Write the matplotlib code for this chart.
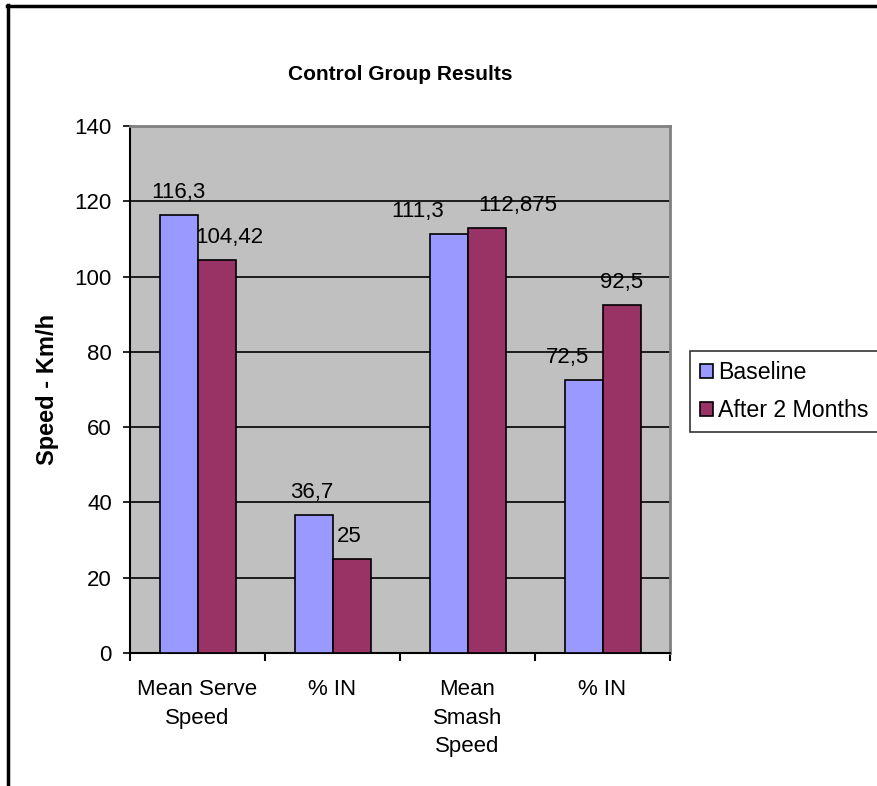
import numpy as np
import matplotlib
matplotlib.use("Agg")
import matplotlib.pyplot as plt
from matplotlib.lines import Line2D
from matplotlib.patches import Patch

plt.rcParams['font.family'] = ['Liberation Sans', 'DejaVu Sans']

# datos
categorias = ["Mean Serve\nSpeed", "% IN", "Mean\nSmash\nSpeed", "% IN"]
baseline = [116.3, 36.7, 111.3, 72.5]
despues = [104.42, 25, 112.875, 92.5]
etq_base = ["116,3", "36,7", "111,3", "72,5"]
etq_desp = ["104,42", "25", "112,875", "92,5"]
# desplazamiento horizontal de las etiquetas (px), como lo hace Excel
dx_base = [0, -2, -31, -16]
dx_desp = [13, -2, 31, 0]

azul, granate, gris = "#9999FF", "#993366", "#C0C0C0"
W, H = 877, 786

fig = plt.figure(figsize=(W / 100, H / 100), dpi=100)
ax = fig.add_axes([130 / W, (H - 653) / H, 540 / W, 527 / H])
ax.set_facecolor(gris)

x = np.arange(len(categorias))
ancho = 38 / 135
ax.bar(x - ancho / 2, baseline, ancho, color=azul, edgecolor="black", linewidth=1.2, zorder=3, label="Baseline")
ax.bar(x + ancho / 2, despues, ancho, color=granate, edgecolor="black", linewidth=1.2, zorder=3, label="After 2 Months")

for i in range(len(x)):
    ax.annotate(etq_base[i], (x[i] - ancho / 2, baseline[i]), xytext=(dx_base[i], 17),
                textcoords="offset pixels", ha="center", va="baseline", fontsize=16, zorder=4)
    ax.annotate(etq_desp[i], (x[i] + ancho / 2, despues[i]), xytext=(dx_desp[i], 17),
                textcoords="offset pixels", ha="center", va="baseline", fontsize=16, zorder=4)

ax.set_xlim(-0.5, len(x) - 0.5)
ax.set_ylim(0, 140)
ax.set_yticks(range(0, 141, 20))
ax.yaxis.grid(True, color="black", linewidth=1.2, zorder=1)
ax.set_axisbelow(True)

ax.set_xticks(x)
ax.set_xticklabels(categorias, fontsize=16, linespacing=1.45)
ax.tick_params(axis="x", length=0, pad=19)
ax.set_xticks(np.arange(-0.5, len(x), 1), minor=True)
ax.tick_params(axis="x", which="minor", length=6, width=1.5, direction="out")
ax.tick_params(axis="y", length=5, width=1.2, direction="out", pad=8, labelsize=16)

for s in ["left", "bottom"]:
    ax.spines[s].set_color("black")
    ax.spines[s].set_linewidth(1.5)
for s in ["top", "right"]:
    ax.spines[s].set_color("#808080")
    ax.spines[s].set_linewidth(2)

ax.set_ylabel("Speed - Km/h", fontsize=17, fontweight="bold", labelpad=11)
fig.text(400 / W, 1 - 75 / H, "Control Group Results", ha="center", va="center",
         fontsize=15, fontweight="bold")

# leyenda
handles = [Patch(facecolor=azul, edgecolor="black", linewidth=1.2),
           Patch(facecolor=granate, edgecolor="black", linewidth=1.2)]
leg = fig.legend(handles, ["Baseline", "After 2 Months"], loc="upper left",
                 bbox_to_anchor=(690 / W, 1 - 351 / H), fontsize=16.7, frameon=True,
                 fancybox=False, edgecolor="black", handlelength=0.55, handleheight=0.55,
                 handletextpad=0.22, borderpad=0.45, labelspacing=0.62, borderaxespad=0)
leg.get_frame().set_linewidth(1.2)

# marco exterior
fig.add_artist(Line2D([7.5 / W, 7.5 / W], [0, 1 - 5 / H], color="black", linewidth=2.5))
fig.add_artist(Line2D([6.5 / W, 1], [1 - 5.5 / H, 1 - 5.5 / H], color="black", linewidth=2.5))

fig.savefig("out.png", dpi=100)
